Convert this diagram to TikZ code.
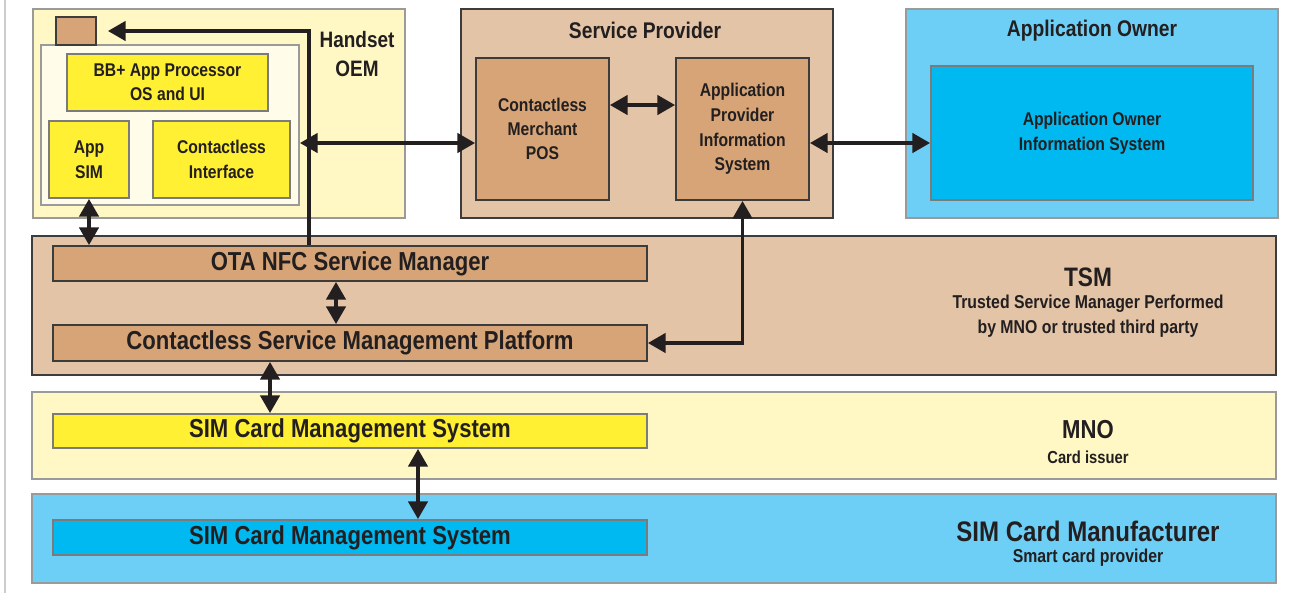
\documentclass[tikz,border=0pt]{standalone}
\usepackage{fontspec}
\setmainfont{Liberation Sans}[FakeStretch=0.85]
\usetikzlibrary{arrows,arrows.meta,positioning,shapes}

\definecolor{oemyellow}{HTML}{FFF8C4}
\definecolor{phonecream}{HTML}{FFFDE9}
\definecolor{chipyellow}{HTML}{FFF033}
\definecolor{tsmtan}{HTML}{E3C4A6}
\definecolor{boxtan}{HTML}{D6A476}
\definecolor{aolight}{HTML}{6DCFF6}
\definecolor{aodark}{HTML}{00B9F0}
\definecolor{inkdark}{HTML}{231F20}
\definecolor{edgegray}{HTML}{9A9A9A}
\definecolor{edgedark}{HTML}{3C3C3C}

\begin{document}
\begin{tikzpicture}[x=0.02cm, y=-0.02cm,
  box/.style={draw, rectangle, inner sep=0pt, align=center, line width=1.1pt, text=inkdark},
  sz/.style 2 args={minimum width=#1*0.02cm, minimum height=#2*0.02cm},
  lbl/.style={align=center, text=inkdark, inner sep=0pt},
  small/.style={font=\bfseries\fontsize{10.5}{14}\selectfont},
  bar/.style={font=\bfseries\fontsize{14.8}{17}\selectfont},
  conn/.style={line width=1.8pt, draw=inkdark, >={Triangle[length=10pt,width=11pt]}},
  font=\bfseries]
  \useasboundingbox (0,0) rectangle (1294,593);
  \draw[line width=1.2pt, black!20] (5,0) -- (5,593);

  % top row
  \node[box, draw=edgegray, fill=oemyellow, sz={372}{209}] (oem) at (219,113.5) {};
  \node[box, draw=edgegray, fill=phonecream, sz={258}{160}] (phone) at (170,125) {};
  \node[box, draw=edgedark, fill=boxtan, sz={40}{28}] (sqr) at (76,31) {};
  \node[box, draw=edgegray!80!black, fill=chipyellow, sz={201}{57}, small, font=\bfseries\fontsize{10.5}{13.5}\selectfont] (bbp) at (167.5,82.5) {BB+ App Processor\\OS and UI};
  \node[box, draw=edgegray!80!black, fill=chipyellow, sz={80}{77}, small] (appsim) at (89,159.5) {App\\SIM};
  \node[box, draw=edgegray!80!black, fill=chipyellow, sz={137}{77}, small] (cif) at (221.5,159.5) {Contactless\\Interface};
  \node[lbl, font=\bfseries\fontsize{12.7}{16}\selectfont] (oemlbl) at (357,54) {Handset\\OEM};

  \node[box, draw=edgedark, fill=tsmtan, sz={372}{209}] (sp) at (647,113.5) {};
  \node[lbl, font=\bfseries\fontsize{12.9}{15}\selectfont] (splbl) at (645,30) {Service Provider};
  \node[box, draw=edgedark, fill=boxtan, sz={133}{142}, small, font=\bfseries\fontsize{10.5}{13.6}\selectfont] (pos) at (542.5,129) {Contactless\\Merchant\\POS};
  \node[box, draw=edgedark, fill=boxtan, sz={133}{142}, small] (apis) at (742.5,129) {Application\\Provider\\Information\\System};

  \node[box, draw=edgegray, fill=aolight, sz={372}{209}] (ao) at (1092,113.5) {};
  \node[lbl, font=\bfseries\fontsize{12.9}{15}\selectfont] (aolbl) at (1092,31) {Application Owner};
  \node[box, draw=edgegray!80!black, fill=aodark, sz={322}{134}, small] (aois) at (1092,133) {Application Owner\\Information System};

  % TSM band
  \node[box, draw=edgedark, fill=tsmtan, sz={1244}{139}] (tsm) at (654,305.5) {};
  \node[box, draw=edgedark, fill=boxtan, sz={594}{35}, bar] (ota) at (350,263.5) {OTA NFC Service Manager};
  \node[box, draw=edgedark, fill=boxtan, sz={594}{36}, bar] (csmp) at (350,343) {Contactless Service Management Platform};
  \node[lbl, font=\bfseries\fontsize{15.2}{17}\selectfont] (tsmlbl) at (1088,277) {TSM};
  \node[lbl, font=\bfseries\fontsize{10.6}{14.2}\selectfont] (tsmsub) at (1088,316) {Trusted Service Manager Performed\\by MNO or trusted third party};

  % MNO band
  \node[box, draw=edgegray, fill=oemyellow, sz={1244}{87}] (mno) at (654,435.5) {};
  \node[box, draw=edgegray!80!black, fill=chipyellow, sz={594}{34}, bar] (simy) at (350,431) {SIM Card Management System};
  \node[lbl, font=\bfseries\fontsize{14.8}{17}\selectfont] (mnolbl) at (1088,430) {MNO};
  \node[lbl, font=\bfseries\fontsize{9.9}{12}\selectfont] (mnosub) at (1088,457) {Card issuer};

  % SIM card manufacturer band
  \node[box, draw=edgegray, fill=aolight, sz={1244}{89}] (scm) at (654,538.5) {};
  \node[box, draw=edgegray!80!black, fill=aodark, sz={594}{35}, bar] (simb) at (350,537.5) {SIM Card Management System};
  \node[lbl, font=\bfseries\fontsize{16.1}{18}\selectfont] (scmlbl) at (1088,531) {SIM Card Manufacturer};
  \node[lbl, font=\bfseries\fontsize{10.6}{12}\selectfont] (scmsub) at (1088,558) {Smart card provider};

  % connectors
  \draw[conn, ->] ([xshift=-0.82cm]ota.north) |- ([xshift=0.22cm]sqr.east);
  \draw[conn, <->] ([yshift=-0.36cm]phone.east) -- ([yshift=-0.36cm]phone.east -| pos.west);
  \draw[conn, <->] ([yshift=0.48cm]pos.east) -- ([yshift=0.48cm]apis.west);
  \draw[conn, <->] ([yshift=-0.28cm]apis.east) -- ([yshift=-0.28cm]apis.east -| aois.west);
  \draw[conn, <->] (apis.south) |- (csmp.east);
  \draw[conn, <->] (appsim.south) -- (appsim.south |- ota.north);
  \draw[conn, <->] ([xshift=-0.28cm]ota.south) -- ([xshift=-0.28cm]csmp.north);
  \draw[conn, <->] ([xshift=-1.6cm]csmp.south) -- ([xshift=-1.6cm]simy.north);
  \draw[conn, <->] ([xshift=1.36cm]simy.south) -- ([xshift=1.36cm]simb.north);
\end{tikzpicture}
\end{document}
